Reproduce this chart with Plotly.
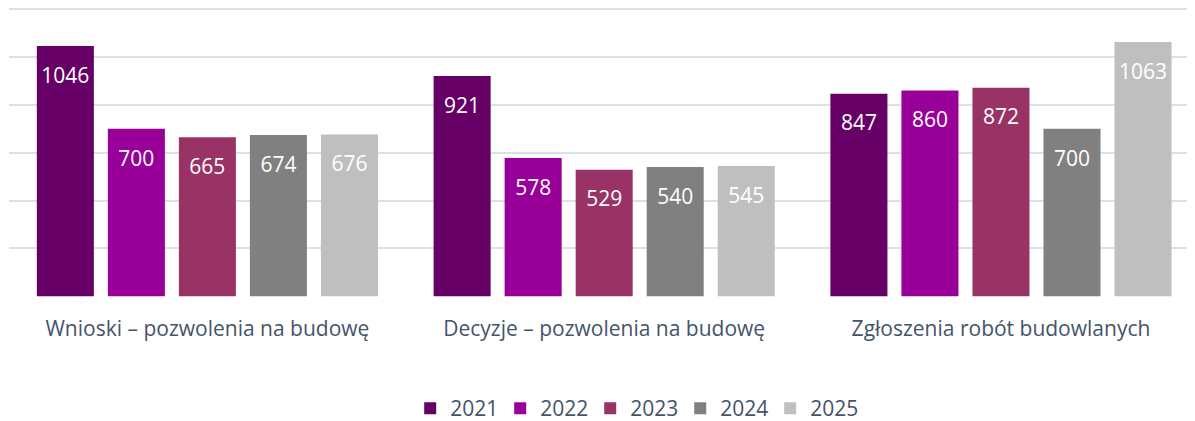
import plotly.graph_objects as go

categorias = ["Wnioski – pozwolenia na budowę", "Decyzje – pozwolenia na budowę", "Zgłoszenia robót budowlanych"]
lata = ["2021", "2022", "2023", "2024", "2025"]
v2021 = [1046, 921, 847]
v2022 = [700, 578, 860]
v2023 = [665, 529, 872]
v2024 = [674, 540, 700]
v2025 = [676, 545, 1063]
kolory = ["#660066", "#990099", "#993366", "#808080", "#BFBFBF"]

wartosci = [v2021, v2022, v2023, v2024, v2025]
FONT = "Open Sans"
SZARY = "#44546A"

fig = go.Figure()
for rok, vals, kolor in zip(lata, wartosci, kolory):
    fig.add_trace(go.Bar(
        x=categorias,
        y=vals,
        name=rok,
        marker=dict(color=kolor, line=dict(width=0)),
        hoverinfo="skip",
    ))

# etykiety wartości wewnątrz słupków (niewidoczny marker odsuwa tekst od krawędzi)
for rok, vals in zip(lata, wartosci):
    fig.add_trace(go.Scatter(
        x=categorias,
        y=vals,
        mode="markers+text",
        text=[str(v) for v in vals],
        textposition="bottom center",
        textfont=dict(family=FONT, size=21, color="white"),
        marker=dict(size=32, color="rgba(0,0,0,0)"),
        showlegend=False,
        hoverinfo="skip",
    ))

# strona ma 8px marginesu body, więc figura jest mniejsza o 8px
fig.update_layout(
    width=1187,
    height=413,
    margin=dict(l=1, r=0, t=0, b=124, autoexpand=False),
    paper_bgcolor="white",
    plot_bgcolor="white",
    barmode="group",
    bargap=0.105,
    bargroupgap=0.197,
    scattermode="group",
    scattergap=0.105,
    font=dict(family=FONT, color=SZARY),
    legend=dict(
        orientation="h",
        x=0.528,
        xanchor="center",
        y=-0.386,
        yanchor="middle",
        font=dict(family=FONT, size=21, color=SZARY),
        entrywidth=45,
        entrywidthmode="pixels",
        itemwidth=30,
    ),
)

fig.update_xaxes(
    range=[-0.5, 2.489],
    showgrid=False,
    zeroline=False,
    showline=False,
    ticks="outside",
    ticklen=13,
    tickcolor="rgba(0,0,0,0)",
    tickfont=dict(family=FONT, size=21, color=SZARY),
)
fig.update_yaxes(
    range=[-3, 1205],
    tickvals=[0, 200, 400, 600, 800, 1000, 1200],
    showticklabels=False,
    showgrid=True,
    gridcolor="#DCE0E8",
    gridwidth=1.5,
    zeroline=False,
)

fig.write_html("out.html")
